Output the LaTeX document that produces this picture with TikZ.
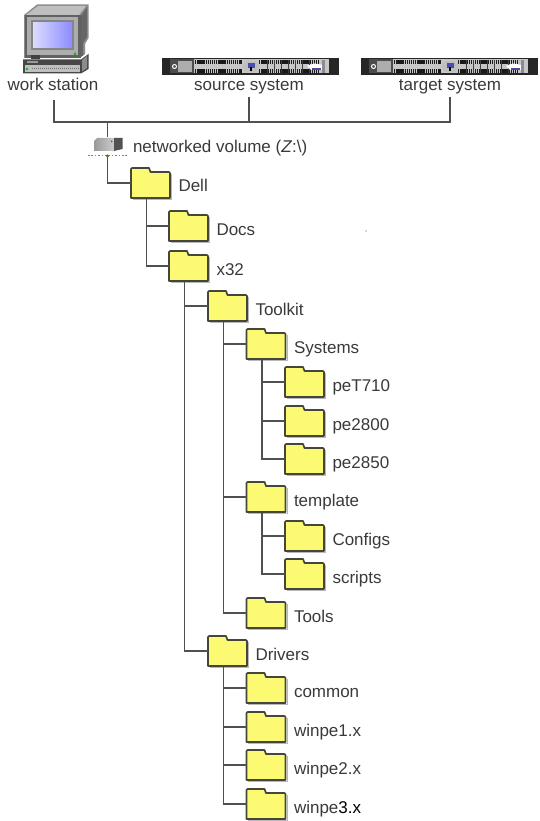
\documentclass[tikz,border=0pt]{standalone}
\usepackage{fontspec}
\setmainfont{Liberation Sans}
\usetikzlibrary{calc}
\definecolor{wire}{HTML}{505050}
\definecolor{ink}{HTML}{3A3A3A}
\definecolor{foldfill}{HTML}{FBFA72}
\definecolor{foldline}{HTML}{45453A}
\tikzset{
  wirelink/.style={draw=wire,line width=1.7pt},
  foldbox/.style={anchor=north west,minimum width=39pt,minimum height=30pt,inner sep=0pt,outer sep=0pt},
  tag/.style={anchor=base west,inner sep=0pt,outer sep=0pt,text=ink,font=\fontsize{17}{19}\selectfont},
  ctag/.style={tag,anchor=base},
  foldshape/.style={fill=foldfill,draw=foldline,line width=1.7pt,line join=round},
  srvbox/.style={anchor=north west,minimum width=177pt,minimum height=17pt,inner sep=0pt,outer sep=0pt},
}
% name, x, top, label text
\newcommand{\folder}[4]{%
  \node[foldbox] (#1) at (#2,#3) {};
  \begin{scope}[shift={(#2,#3)}]
    \draw[draw=black!28,line width=1.2pt] (40.8,6) -- (40.8,31.6) -- (1.5,31.6);
    \draw[foldshape] (0,30) -- (0,1) -- (1,0) -- (18,0) -- (19.5,4) -- (38,4) -- (39,5) -- (39,30) -- cycle;
  \end{scope}
  \node[tag] (#1-tag) at (#2+47.5,#3+24) {#4};
}
% name, x : rack server
\newcommand{\rackserver}[2]{%
  \node[srvbox] (#1) at (#2,58) {};
  \begin{scope}[shift={(#2,58)}]
    \fill[black!85] (0,0) rectangle (177,17);
    \fill[black!22] (8,1.5) rectangle (168,15.5);
    \fill[black!70] (8,1.5) rectangle (32,15.5);
    \draw[white,line width=1pt] (12.5,8.5) circle (2pt);
    \fill[black!32] (16,3) rectangle (30,14);
    \foreach \yy in {3.2,5.2,11.8,13.8}{
      \draw[black!90,line width=1.7pt,dash pattern=on 1.4pt off .7pt] (33,\yy) -- (80,\yy);
      \draw[black!90,line width=1.7pt,dash pattern=on 1.4pt off .7pt] (97,\yy) -- (157,\yy);
    }
    \foreach \xx in {105,112,119,126,133,140,147}
      \draw[black!75,line width=1pt] (\xx,2) -- (\xx,15);
    \fill[black!25] (80,8.5) -- (84,3) -- (94,3) -- (98,8.5) -- (94,14) -- (84,14) -- cycle;
    \fill[blue!55!black!70] (85.5,5.5) rectangle (92.5,10);
    \fill[black] (88.2,9) rectangle (89.8,13);
    \fill[white] (145,8) -- (152,5.5) -- (161,7) -- (161,12) -- (149,12) -- cycle;
    \fill[blue!50!black!70] (150,10) rectangle (159,12);
    \fill[black!45] (160,2) rectangle (163,15);
    \fill[black!85] (167,1) rectangle (177,16);
  \end{scope}
}
\begin{document}
\begin{tikzpicture}[x=1pt,y=-1pt]
\useasboundingbox (0,0) rectangle (539,821);
\fill[white] (0,0) rectangle (539,821);

% --- work station icon
\node[anchor=north west,minimum width=66pt,minimum height=70pt,inner sep=0pt] (ws) at (23,4) {};
\fill[black!45] (37,4.5) -- (88.5,4.5) -- (88.5,38) -- (85,44) -- (85,54) -- (80,58) -- (24,58) -- (24,15) -- cycle;
\fill[black!25] (26,15) -- (38,6) -- (86,6) -- (79,15) -- cycle;
\fill[black!60] (81,16) -- (87,7) -- (87,37) -- (83,43) -- (83,56) -- (81,56) -- cycle;
\fill[black!62] (24.5,15) rectangle (80.5,58);
\fill[black!32] (27,17) rectangle (78,55);
\fill[black!48] (31,20) rectangle (74,50);
\shade[left color=blue!14,right color=blue!45] (33,22.5) rectangle (72,48);
\fill[green!75!black] (75,54) circle (1.5pt);
\fill[black!75] (31,55.5) rectangle (40,59);
\fill[black!72] (23,59.5) -- (81,59.5) -- (88.5,54) -- (88.5,69) -- (81,73.5) -- (23,73.5) -- cycle;
\fill[black!45] (82,60) -- (87,56) -- (87,68) -- (82,71.5) -- cycle;
\fill[black!25] (25,65.5) rectangle (80,72);
\draw[black!55,line width=1pt,dash pattern=on 1pt off 1pt] (32,69) -- (79,69);
\fill[black!40] (27,61) rectangle (38,63.5);
\fill[green!75!black] (27,69) circle (1.4pt);
\node[ctag] (ws-tag) at (53,91) {work station};

% --- servers
\rackserver{src}{162}
\rackserver{tgt}{361}
\node[ctag] (src-tag) at (249,90.5) {source system};
\node[ctag] (tgt-tag) at (450,90.5) {target system};

% --- networked volume icon
\node[anchor=north west,minimum width=30pt,minimum height=19pt,inner sep=0pt] (vol) at (93,137) {};
\shade[left color=black!40,right color=black!20] (94,141) -- (97,138) -- (114,138) -- (114,151) -- (94,151) -- cycle;
\fill[black!68] (114,138) -- (122.5,138) -- (122.5,149) -- (114,151) -- cycle;
\fill[green!65!black] (111.5,141.5) circle (1pt);
\draw[black!50,line width=1pt,dash pattern=on 1.6pt off 1.8pt] (88,156) -- (127,156);
\node[tag] (vol-tag) at (133,153) {networked volume (\textit{Z}:\textbackslash)};

% --- folders
\folder{dell}{131}{168}{Dell}
\folder{docs}{169}{211}{Docs}
\folder{x32}{169}{251}{x32}
\folder{toolkit}{208}{291}{Toolkit}
\folder{systems}{246.5}{329}{Systems}
\folder{peT}{285}{367}{peT710}
\folder{pea}{285}{406}{pe2800}
\folder{peb}{285}{444}{pe2850}
\folder{template}{246.5}{482}{template}
\folder{configs}{285}{521}{Configs}
\folder{scripts}{285}{559}{scripts}
\folder{tools}{246.5}{598}{Tools}
\folder{drivers}{208}{636}{Drivers}
\folder{common}{246.5}{673}{common}
\folder{wpa}{246.5}{712}{winpe1.x}
\folder{wpb}{246.5}{750}{winpe2.x}
\folder{wpc}{246.5}{789}{winpe{\color{black}3.x}}

% --- connectors
\coordinate (wsdrop) at (54,100);
\coordinate (srcdrop) at (249,97);
\coordinate (tgtdrop) at (450,97);
\coordinate (volhub) at (107.5,156);
\coordinate (busjoin) at (107.5,122);
\draw[wirelink] (wsdrop) |- (tgtdrop |- busjoin) -- (tgtdrop);
\draw[wirelink] (srcdrop) -- (srcdrop |- busjoin);
\draw[wirelink] (busjoin) -- (busjoin |- vol.north);
\draw[wirelink] (busjoin |- vol.south) -- (volhub);
\draw[wirelink] (volhub) |- (dell.west);
\fill[olive!70!black] (volhub) circle (1.6pt);
\foreach \upn/\kid in {dell/docs,dell/x32,x32/toolkit,x32/drivers,toolkit/systems,toolkit/template,toolkit/tools,systems/peT,systems/pea,systems/peb,template/configs,template/scripts,drivers/common,drivers/wpa,drivers/wpb,drivers/wpc}
  \draw[wirelink] ($(\upn.south west)+(15.5,1)$) |- (\kid.west);

% --- stray speck in the picture
\coordinate (speck) at (366,231);
\fill[black!70] (speck) circle (.6pt);
\end{tikzpicture}
\end{document}
